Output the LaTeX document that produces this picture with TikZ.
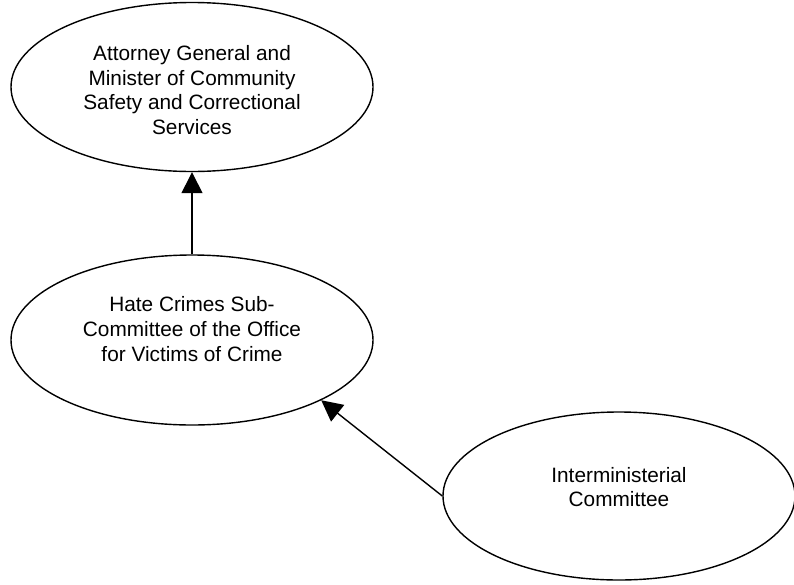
\documentclass[tikz,border=0pt]{standalone}
\usepackage{fontspec}
\setmainfont{Liberation Sans}
\usetikzlibrary{arrows.meta,shapes.geometric}
\begin{document}
\begin{tikzpicture}[x=1pt,y=-1pt,
  orgell/.style={draw=black,line width=1.4pt,ellipse,inner sep=0pt},
  orgtext/.style={inner sep=0pt,font=\fontsize{20.8}{24.6}\selectfont,align=center},
  link/.style={line width=1.4pt,-{Triangle[length=21pt,width=21pt]}}]
\useasboundingbox (0,0) rectangle (794,584);
\begin{scope}
\clip (0,0) rectangle (794,584);
\node[orgell,minimum width=362pt,minimum height=169pt] (ag) at (192,87) {};
\node[orgell,minimum width=362pt,minimum height=170pt] (hc) at (192,340) {};
\node[orgell,minimum width=352pt,minimum height=168pt] (ic) at (619,496) {};
\node[orgtext] (agt) at ([yshift=-3pt]ag.center)
  {Attorney General and\\Minister of Community\\Safety and Correctional\\Services};
\node[orgtext] (hct) at ([yshift=11pt]hc.center)
  {Hate Crimes Sub-\\Committee of the Office\\for Victims of Crime};
\node[orgtext] (ict) at ([yshift=9pt]ic.center)
  {Interministerial\\Committee};
\draw[link] (hc.north) -- (ag.south);
\draw[link] (ic.west) -- (hc.-25);
\end{scope}
\end{tikzpicture}
\end{document}
